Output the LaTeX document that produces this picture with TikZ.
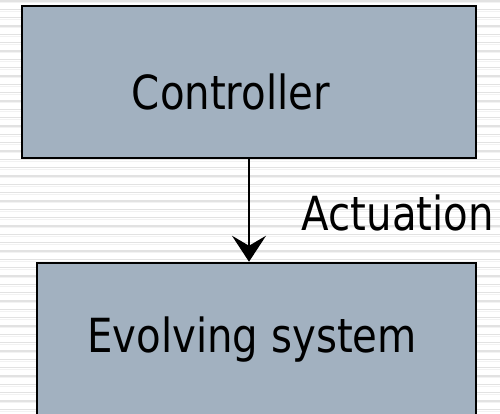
\documentclass[tikz,border=0pt]{standalone}
\usepackage{fontspec}
\setmainfont{DejaVu Sans}[FakeStretch=0.857]
\usetikzlibrary{arrows.meta}
\definecolor{boxfill}{HTML}{A2B1C0}
\definecolor{rulegray}{HTML}{E2E2E2}
\definecolor{rulelight}{HTML}{F2F2F2}
\tikzset{
  block/.style={draw=black, line width=2.5pt, fill=boxfill, rectangle, inner sep=0pt},
  label text/.style={anchor=base west, inner sep=0pt, font=\fontsize{47}{50}\selectfont},
  flow/.style={line width=1.5pt, -{Stealth[length=26pt, width=34pt, inset=10pt]}},
  ruled/.style={rulegray, line width=1.3pt},
  ruledlight/.style={rulelight, line width=1pt}
}
\begin{document}
\begin{tikzpicture}[x=1pt, y=-1pt]
  \useasboundingbox (0,0) rectangle (500,413);
  \clip (0,0) rectangle (500,413);
  \fill[white] (0,0) rectangle (500,413);
  % ruled paper background
  \foreach \i in {0,...,50} {
    \draw[ruled] (0, {1+8.333*\i}) -- (500, {1+8.333*\i});
    \draw[ruledlight] (0, {2.8+8.333*\i}) -- (500, {2.8+8.333*\i});
  }
  % blocks
  \node[block, minimum width=454pt, minimum height=152pt] (ctrl) at (249, 82) {};
  \node[block, minimum width=439pt, minimum height=170pt] (sys) at (256.5, 348) {};
  % texts
  \node[label text] (ctrltext) at (131.7, 109) {Controller};
  \node[label text] (systext) at (87, 352) {Evolving system};
  \node[label text] (acttext) at (301.5, 230) {Actuation};
  % actuation arrow
  \draw[flow] (ctrl.south) -- (ctrl.south |- sys.north);
\end{tikzpicture}
\end{document}
